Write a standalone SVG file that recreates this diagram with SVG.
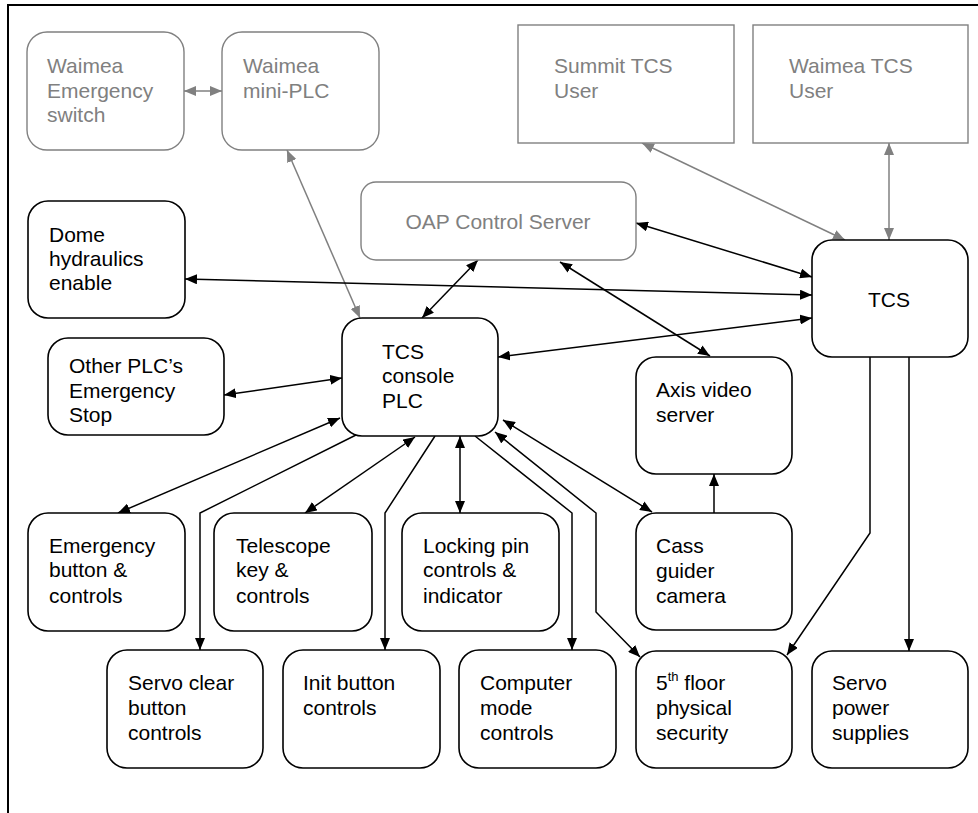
<svg xmlns="http://www.w3.org/2000/svg" width="978" height="813" viewBox="0 0 978 813">
<style>
.bk rect{fill:#fff;stroke:#000;stroke-width:1.6}
.gy rect{fill:#fff;stroke:#808080;stroke-width:1.4}
text{font-family:"Liberation Sans",Arial,sans-serif;font-size:21px}
.bk text{fill:#000}
.gy text{fill:#808080}
.c path{fill:none;stroke-width:1.5}
.cb{stroke:#000}
.cg{stroke:#808080}
</style>
<defs>
<marker id="ab" viewBox="0 0 12 10" refX="12" refY="5" markerWidth="12" markerHeight="10" markerUnits="userSpaceOnUse" orient="auto-start-reverse"><path d="M0,0 L12,5 L0,10 z" fill="#000"/></marker>
<marker id="ag" viewBox="0 0 12 10" refX="12" refY="5" markerWidth="12" markerHeight="10" markerUnits="userSpaceOnUse" orient="auto-start-reverse"><path d="M0,0 L12,5 L0,10 z" fill="#808080"/></marker>
</defs>
<rect x="0" y="0" width="978" height="813" fill="#fff"/>
<path d="M978,5 L8,5 L8,813" fill="none" stroke="#000" stroke-width="2"/>

<g id="connectors" class="c">
<path class="cg" d="M184,91 L222,91" marker-start="url(#ag)" marker-end="url(#ag)"/>
<path class="cg" d="M287,150 L360,318" marker-start="url(#ag)" marker-end="url(#ag)"/>
<path class="cg" d="M642,143 L845,240" marker-start="url(#ag)" marker-end="url(#ag)"/>
<path class="cg" d="M889,143 L889,240" marker-start="url(#ag)" marker-end="url(#ag)"/>
<path class="cb" d="M636,223 L812,277" marker-start="url(#ab)" marker-end="url(#ab)"/>
<path class="cb" d="M185,279 L812,295" marker-start="url(#ab)" marker-end="url(#ab)"/>
<path class="cb" d="M498,357 L812,318" marker-start="url(#ab)" marker-end="url(#ab)"/>
<path class="cb" d="M560,262 L710,356" marker-start="url(#ab)" marker-end="url(#ab)"/>
<path class="cb" d="M478,260 L422,318" marker-start="url(#ab)" marker-end="url(#ab)"/>
<path class="cb" d="M224,395 L342,378" marker-start="url(#ab)" marker-end="url(#ab)"/>
<path class="cb" d="M118,513 L340,418" marker-start="url(#ab)" marker-end="url(#ab)"/>
<path class="cb" d="M358,434 L200,513 L200,650" marker-end="url(#ab)"/>
<path class="cb" d="M305,513 L415,437" marker-start="url(#ab)" marker-end="url(#ab)"/>
<path class="cb" d="M435,436 L385,513 L385,650" marker-end="url(#ab)"/>
<path class="cb" d="M460,436 L460,513" marker-start="url(#ab)" marker-end="url(#ab)"/>
<path class="cb" d="M475,436 L572,513 L572,650" marker-end="url(#ab)"/>
<path class="cb" d="M495,432 L596,513 L596,612 L640,657" marker-start="url(#ab)" marker-end="url(#ab)"/>
<path class="cb" d="M503,420 L652,512" marker-start="url(#ab)" marker-end="url(#ab)"/>
<path class="cb" d="M714,513 L714,474" marker-end="url(#ab)"/>
<path class="cb" d="M870,357 L870,533 L787,655" marker-end="url(#ab)"/>
<path class="cb" d="M909,357 L909,651" marker-end="url(#ab)"/>
</g>

<g id="waimea-emergency-switch" class="gy"><rect x="27" y="32" width="157" height="118" rx="20"/><text x="47" y="73">Waimea</text><text x="47" y="98">Emergency</text><text x="47" y="122">switch</text></g>
<g id="waimea-mini-plc" class="gy"><rect x="222" y="32" width="157" height="118" rx="20"/><text x="243" y="73">Waimea</text><text x="243" y="98">mini-PLC</text></g>
<g id="summit-tcs-user" class="gy"><rect x="518" y="25" width="216" height="118"/><text x="554" y="73">Summit TCS</text><text x="554" y="98">User</text></g>
<g id="waimea-tcs-user" class="gy"><rect x="753" y="25" width="215" height="118"/><text x="789" y="73">Waimea TCS</text><text x="789" y="98">User</text></g>
<g id="oap-control-server" class="gy"><rect x="361" y="182" width="275" height="78" rx="15"/><text x="498" y="229" text-anchor="middle">OAP Control Server</text></g>
<g id="tcs" class="bk"><rect x="812" y="240" width="156" height="117" rx="20"/><text x="889" y="307" text-anchor="middle">TCS</text></g>
<g id="dome-hydraulics" class="bk"><rect x="28" y="201" width="157" height="117" rx="20"/><text x="49" y="242">Dome</text><text x="49" y="266">hydraulics</text><text x="49" y="290">enable</text></g>
<g id="other-plcs" class="bk"><rect x="48" y="338" width="176" height="97" rx="20"/><text x="69" y="373">Other PLC’s</text><text x="69" y="398">Emergency</text><text x="69" y="422">Stop</text></g>
<g id="tcs-console-plc" class="bk"><rect x="342" y="318" width="156" height="118" rx="20"/><text x="382" y="359">TCS</text><text x="382" y="383">console</text><text x="382" y="408">PLC</text></g>
<g id="axis-video-server" class="bk"><rect x="636" y="357" width="156" height="117" rx="20"/><text x="656" y="397">Axis video</text><text x="656" y="422">server</text></g>
<g id="cass-guider-camera" class="bk"><rect x="636" y="513" width="156" height="117" rx="20"/><text x="656" y="553">Cass</text><text x="656" y="578">guider</text><text x="656" y="603">camera</text></g>
<g id="fifth-floor-security" class="bk"><rect x="636" y="651" width="156" height="117" rx="20"/><text x="656" y="690">5<tspan font-size="13" dy="-9">th</tspan><tspan dy="9"> floor</tspan></text><text x="656" y="715">physical</text><text x="656" y="740">security</text></g>
<g id="servo-power-supplies" class="bk"><rect x="812" y="651" width="156" height="117" rx="20"/><text x="832" y="690">Servo</text><text x="832" y="715">power</text><text x="832" y="740">supplies</text></g>
<g id="emergency-button" class="bk"><rect x="28" y="513" width="157" height="118" rx="20"/><text x="49" y="553">Emergency</text><text x="49" y="577">button &amp;</text><text x="49" y="603">controls</text></g>
<g id="telescope-key" class="bk"><rect x="214" y="513" width="158" height="118" rx="20"/><text x="236" y="553">Telescope</text><text x="236" y="577">key &amp;</text><text x="236" y="603">controls</text></g>
<g id="locking-pin" class="bk"><rect x="402" y="513" width="157" height="118" rx="20"/><text x="423" y="553">Locking pin</text><text x="423" y="577">controls &amp;</text><text x="423" y="603">indicator</text></g>
<g id="servo-clear" class="bk"><rect x="107" y="650" width="156" height="118" rx="20"/><text x="128" y="690">Servo clear</text><text x="128" y="715">button</text><text x="128" y="740">controls</text></g>
<g id="init-button" class="bk"><rect x="283" y="650" width="157" height="118" rx="20"/><text x="303" y="690">Init button</text><text x="303" y="715">controls</text></g>
<g id="computer-mode" class="bk"><rect x="459" y="650" width="157" height="118" rx="20"/><text x="480" y="690">Computer</text><text x="480" y="715">mode</text><text x="480" y="740">controls</text></g>
</svg>
